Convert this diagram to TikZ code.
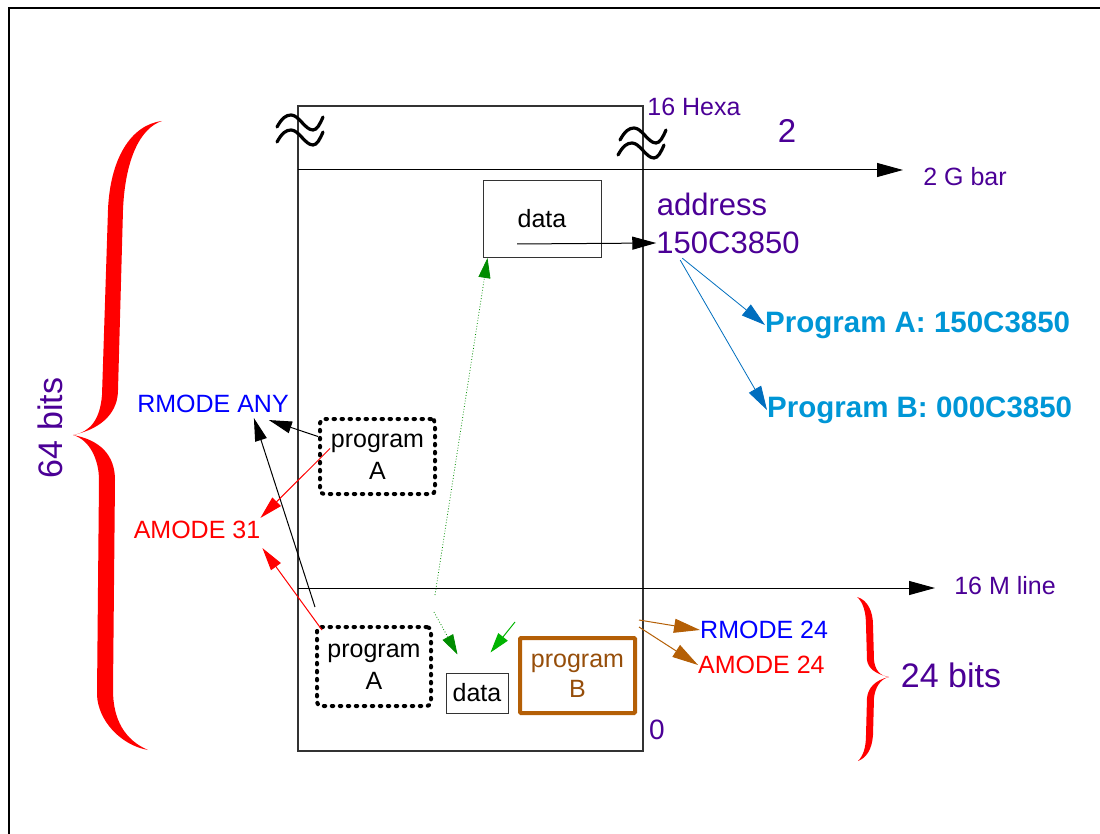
\documentclass[tikz,border=0pt]{standalone}
\usepackage{fontspec}
\setmainfont{Liberation Sans}
\usepackage{tikz}
\usetikzlibrary{
  arrows.meta,
  positioning,
  calc
}
\definecolor{roxo}{RGB}{75,0,150}
\definecolor{azulclaro}{RGB}{0,150,214}
\definecolor{azulseta}{RGB}{0,110,190}
\definecolor{marrom}{RGB}{180,95,6}
\definecolor{marromtxt}{RGB}{150,78,10}
\definecolor{verde}{RGB}{0,140,0}
\definecolor{verdeclaro}{RGB}{0,180,0}

\begin{document}
\begin{tikzpicture}[
      x=1pt, y=-1pt,
      >={Triangle[length=23pt,width=12pt]},
      every node/.style={inner sep=0pt},
      txt/.style={font=\fontsize{25}{30}\selectfont},
      roxotxt/.style={font=\fontsize{25}{30}\selectfont, text=roxo},
      grande/.style={font=\fontsize{31}{36}\selectfont, text=roxo},
      enorme/.style={font=\fontsize{34}{40}\selectfont, text=roxo},
      azultxt/.style={font=\bfseries\fontsize{29.5}{34}\selectfont, text=azulclaro, anchor=west},
      caixa/.style={draw=black!80, line width=1pt, txt},
      pontilhada/.style={draw, line width=4pt, dash pattern=on 1.5pt off 6.5pt,
                         line cap=round, rounded corners=4pt, align=center,
                         font=\fontsize{25}{32}\selectfont},
      seta/.style={->, line width=1pt},
      setaverde/.style={->, >={Triangle[length=20pt,width=12pt]}, line width=0.8pt},
      ondas/.style={line width=3.2pt, line cap=round}
  ]
      \useasboundingbox (0,0) rectangle (1100,834);

      % Moldura externa
      \draw[line width=1.5pt] (9,834) -- (9,8) -- (1100,8);

      % Espaco de enderecamento
      \draw[black!80, line width=1.2pt] (298,106) rectangle (643,751);
      \foreach \sx/\sy in {277/127, 277/142, 620/140, 618/155}
        \draw[ondas, shift={(\sx,\sy)}] (0,0) .. controls (5,-9) and (9,-12) .. (14,-12)
              .. controls (22,-12) and (28,3) .. (36,3) .. controls (40,3) and (43,-3) .. (46,-10);

      % Linhas de 2 G e 16 M
      \coordinate (g0) at (298,170);
      \coordinate (g1) at (903,170);
      \coordinate (m0) at (298,588);
      \coordinate (m1) at (935,588);
      \draw[seta, >={Triangle[length=26pt,width=14pt]}] (g0) -- (g1);
      \draw[seta, >={Triangle[length=26pt,width=14pt]}] (m0) -- (m1);

      \node[roxotxt] (hexa) at (694,107) {16 Hexa};
      \node[font=\fontsize{33}{38}\selectfont, text=roxo] (dois) at (787,131) {2};
      \node[roxotxt] (gbar) at (965,177) {2 G bar};
      \node[roxotxt] (mline) at (1005,586) {16 M line};
      \node[font=\fontsize{28}{32}\selectfont, text=roxo] (zero) at (657,730) {0};

      % Dados acima da linha
      \node[caixa, minimum width=118, minimum height=77] (dados1) at (542,219) {data};
      \node[grande] (addr) at (712,204) {address};
      \node[grande] (hexaddr) at (728,243) {150C3850};
      \coordinate (d0) at (517,244);
      \draw[seta, >={Triangle[length=24pt,width=13pt]}] (d0) -- (hexaddr.west);

      \node[azultxt] (progA) at (765,325) {Program A: 150C3850};
      \node[azultxt] (progB) at (767,410) {Program B: 000C3850};
      \draw[seta, azulseta, line width=0.8pt, >={Triangle[length=24pt,width=14pt]}]
            ([shift={(26,4)}]hexaddr.south west) -- (progA.west);
      \draw[seta, azulseta, line width=0.8pt, >={Triangle[length=24pt,width=14pt]}]
            ([shift={(24,6)}]hexaddr.south west) -- (progB.west);

      % Programas
      \node[pontilhada, minimum width=115, minimum height=75] (pa1) at (377.5,456.5) {program\\A};
      \node[pontilhada, minimum width=114, minimum height=79] (pa2) at (374,666.5) {program\\A};
      \node[caixa, minimum width=62, minimum height=40] (dados2) at (477,693) {data};
      \node[draw=marrom, line width=4pt, rounded corners=1pt, minimum width=115, minimum height=75,
            align=center, txt, text=marromtxt] (pb) at (577.5,675.5) {program\\B};

      % Modos
      \node[txt, text=blue] (rmany) at (213,404) {RMODE ANY};
      \node[txt, text=red] (am31) at (197,530) {AMODE 31};
      \node[txt, text=blue, anchor=west] (rm24) at (700,630) {RMODE 24};
      \node[txt, text=red, anchor=west] (am24) at (698,665) {AMODE 24};

      \draw[seta] ([shift={(0,-20)}]pa1.west) -- ([shift={(-20,7)}]rmany.south east);
      \draw[seta] ([shift={(0,-18)}]pa2.north west) -- ([shift={(-35,5)}]rmany.south east);
      \draw[seta, red] ([shift={(12,-8)}]pa1.west) -- ([shift={(0,-3)}]am31.north east);
      \draw[seta, red] ([shift={(7,5)}]pa2.north west) -- ([shift={(2,9)}]am31.south east);
      \draw[seta, marrom, >={Triangle[length=26pt,width=14pt]}] ([shift={(2,-16)}]pb.north east) -- (rm24.west);
      \draw[seta, marrom, >={Triangle[length=26pt,width=14pt]}] ([shift={(2,-9)}]pb.north east) -- (am24.west);

      % Acessos aos dados
      \coordinate (v0) at (435,595);
      \coordinate (v1) at (434,612);
      \coordinate (v2) at (515,622);
      \draw[setaverde, verde, dotted] (v0) -- ([shift={(5,0)}]dados1.south west);
      \draw[setaverde, verde, dotted] (v1) -- ([shift={(12,-18)}]dados2.north west);
      \draw[setaverde, verdeclaro, line width=1pt] (v2) -- ([shift={(-18,-20)}]dados2.north east);

      % Chaves
      \fill[red] (162,121) .. controls (130,125) and (110,160) .. (108,210)
            -- (102,395) .. controls (100,420) and (90,432) .. (73,435)
            .. controls (90,440) and (99,460) .. (99,480)
            -- (97,695) .. controls (98,720) and (120,745) .. (148,750)
            .. controls (125,740) and (113,720) .. (113,690)
            -- (115,480) .. controls (115,455) and (100,440) .. (73,435)
            .. controls (105,428) and (118,410) .. (118,390)
            -- (123,210) .. controls (125,160) and (140,128) .. (162,121) -- cycle;
      \fill[red] (857,597) .. controls (868,600) and (873,612) .. (873,625)
            -- (874,660) .. controls (875,670) and (880,676) .. (889,677)
            .. controls (880,679) and (875,688) .. (874,698)
            -- (873,735) .. controls (872,750) and (866,758) .. (858,761)
            .. controls (863,756) and (866,748) .. (866,735)
            -- (867,698) .. controls (868,688) and (875,680) .. (889,677)
            .. controls (875,674) and (868,668) .. (867,660)
            -- (866,625) .. controls (866,612) and (863,602) .. (857,597) -- cycle;

      \node[enorme, rotate=90] (bits64) at (50,428) {64 bits};
      \node[enorme] (bits24) at (951,675) {24 bits};
  \end{tikzpicture}
\end{document}
